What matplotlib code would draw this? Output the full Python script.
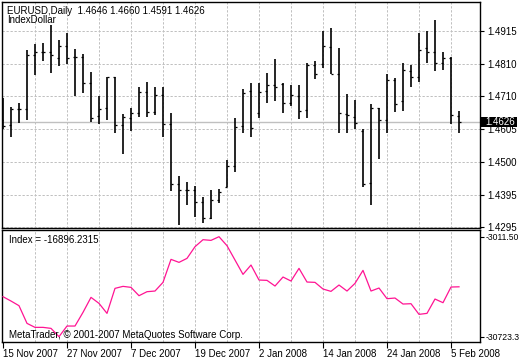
import numpy as np
import matplotlib.pyplot as plt
from matplotlib.transforms import blended_transform_factory
from matplotlib.patches import Rectangle

plt.rcParams['font.family'] = ['Liberation Sans', 'DejaVu Sans']

# EURUSD daily bars, 15 Nov 2007 - 6 Feb 2008
opens = [1.4633, 1.4616, 1.4667, 1.4667, 1.4838, 1.4847, 1.4847, 1.4828, 1.4867, 1.4831,
         1.4831, 1.4751, 1.4645, 1.4669, 1.4768, 1.4617, 1.4640, 1.4654, 1.4722, 1.4657,
         1.4712, 1.4620, 1.4430, 1.4411, 1.4411, 1.4373, 1.4322, 1.4380, 1.4420, 1.4487,
         1.4612, 1.4724, 1.4654, 1.4725, 1.4742, 1.4745, 1.4687, 1.4708, 1.4664, 1.4807,
         1.4809, 1.4863, 1.4778, 1.4651, 1.4643, 1.4599, 1.4432, 1.4669, 1.4633, 1.4758,
         1.4693, 1.4786, 1.4768, 1.4859, 1.4847, 1.4812, 1.4828, 1.4646]
highs = [1.4701, 1.4673, 1.4685, 1.4854, 1.4872, 1.4875, 1.4933, 1.4886, 1.4909, 1.4856,
         1.4841, 1.4785, 1.4708, 1.4768, 1.4770, 1.4652, 1.4669, 1.4738, 1.4752, 1.4736,
         1.4736, 1.4654, 1.4456, 1.4437, 1.4424, 1.4390, 1.4411, 1.4414, 1.4506, 1.4640,
         1.4730, 1.4749, 1.4749, 1.4782, 1.4824, 1.4749, 1.4742, 1.4742, 1.4812, 1.4819,
         1.4914, 1.4922, 1.4859, 1.4714, 1.4696, 1.4603, 1.4683, 1.4669, 1.4778, 1.4764,
         1.4812, 1.4807, 1.4909, 1.4914, 1.4949, 1.4848, 1.4831, 1.4660]
lows = [1.4603, 1.4580, 1.4622, 1.4633, 1.4775, 1.4820, 1.4782, 1.4804, 1.4809, 1.4710,
        1.4719, 1.4627, 1.4620, 1.4633, 1.4590, 1.4525, 1.4599, 1.4641, 1.4641, 1.4648,
        1.4578, 1.4409, 1.4301, 1.4364, 1.4327, 1.4308, 1.4321, 1.4371, 1.4420, 1.4469,
        1.4590, 1.4580, 1.4638, 1.4685, 1.4694, 1.4656, 1.4677, 1.4637, 1.4640, 1.4761,
        1.4796, 1.4778, 1.4593, 1.4590, 1.4603, 1.4422, 1.4364, 1.4510, 1.4590, 1.4659,
        1.4662, 1.4738, 1.4754, 1.4812, 1.4786, 1.4792, 1.4620, 1.4591]
closes = [1.4615, 1.4667, 1.4667, 1.4837, 1.4846, 1.4847, 1.4838, 1.4867, 1.4830, 1.4831,
          1.4751, 1.4638, 1.4667, 1.4768, 1.4616, 1.4643, 1.4656, 1.4722, 1.4657, 1.4712,
          1.4620, 1.4430, 1.4411, 1.4411, 1.4373, 1.4322, 1.4380, 1.4406, 1.4487, 1.4609,
          1.4719, 1.4606, 1.4721, 1.4742, 1.4738, 1.4685, 1.4711, 1.4660, 1.4807, 1.4778,
          1.4867, 1.4778, 1.4654, 1.4649, 1.4622, 1.4429, 1.4669, 1.4633, 1.4758, 1.4682,
          1.4791, 1.4768, 1.4853, 1.4847, 1.4812, 1.4828, 1.4647, 1.4626]

# IndexDollar indicator
index_vals = [-19638, -20839, -22132, -27028, -28136, -28136, -28414, -30723.3, -27767, -27767,
              -23980, -19823, -21486, -24257, -17329, -16775, -17052, -19361, -18253, -18068,
              -15666, -9293, -10124, -9016, -5783, -3843, -4028, -3011.5, -5505, -9477,
              -13449, -10863, -15020, -15112, -16682, -14188, -15297, -11787, -15574, -15666,
              -17514, -18160, -16405, -18068, -15943, -12341, -18068, -17237, -20192, -20008,
              -21670, -21578, -24534, -24257, -20285, -21301, -16960, -16896.2315]

date_labels = ['15 Nov 2007', '27 Nov 2007', '7 Dec 2007', '19 Dec 2007',
               '2 Jan 2008', '14 Jan 2008', '24 Jan 2008', '5 Feb 2008']
price_ticks = [1.4915, 1.4810, 1.4710, 1.4605, 1.4500, 1.4395, 1.4295]
index_ticks = [-3011.50, -30723.3]
index_tick_labels = ['-3011.50', '-30723.3']

W, H = 520, 360
fig = plt.figure(figsize=(W / 100, H / 100), dpi=100)
fig.patch.set_facecolor('white')

def px_axes(x0, y0, x1, y1):
    return fig.add_axes([x0 / W, 1 - y1 / H, (x1 - x0) / W, (y1 - y0) / H])

ax = px_axes(2, 2, 480, 228)
ax2 = px_axes(2, 230, 480, 342)

x = np.arange(len(closes))
xlim = (-0.125, 59.625)
grid_kw = dict(color='#c0c0c0', lw=0.72, dashes=(2.3, 1.7), zorder=0)

# --- price panel
for gx in range(4, 60, 4):
    ax.axvline(gx, **grid_kw)
    ax2.axvline(gx, **grid_kw)
for p in price_ticks:
    ax.axhline(p, **grid_kw)
ax.axhline(closes[-1], color='#c0c0c0', lw=1.0, zorder=1)

ax.vlines(x, lows, highs, color='black', lw=1.2, zorder=3)
ax.hlines(opens, x - 0.3, x, color='black', lw=0.9, zorder=3)
ax.hlines(closes, x, x + 0.3, color='black', lw=0.9, zorder=3)

ax.set_xlim(*xlim)
ax.set_ylim(1.4291, 1.50057)
ax.yaxis.tick_right()
ax.set_yticks(price_ticks)
ax.set_yticklabels(['%.4f' % p for p in price_ticks])
ax.tick_params(axis='y', direction='out', length=3, width=0.8, pad=2.5, labelsize=7)
ax.tick_params(axis='x', bottom=False, labelbottom=False)

# last price tag
tr = blended_transform_factory(ax.transAxes, ax.transData)
ax.add_patch(Rectangle((1.003, closes[-1] - 0.00155), 36 / 478, 0.0031, transform=tr,
                       facecolor='black', edgecolor='none', clip_on=False, zorder=6))
ax.text(1.0 + 5 / 478, closes[-1], '%.4f' % closes[-1], transform=tr, color='white',
        fontsize=7, va='center', ha='left', zorder=7, clip_on=False)

fig.text(7 / W, 1 - 11 / H, 'EURUSD,Daily  %.4f %.4f %.4f %.4f' % (opens[-1], highs[-1], lows[-1], closes[-1]),
         fontsize=7, va='center', ha='left')
fig.text(7 / W, 1 - 20 / H, 'IndexDollar', fontsize=7, va='center', ha='left')

# --- index panel
ax2.plot(x, index_vals, color='#ff1493', lw=0.9, zorder=3)
ax2.set_xlim(*xlim)
ax2.set_ylim(-32192, -1155)
ax2.yaxis.tick_right()
ax2.set_yticks(index_ticks)
ax2.set_yticklabels(index_tick_labels)
ax2.tick_params(axis='y', direction='out', length=3, width=0.8, pad=1.2, labelsize=6.2)
ax2.set_xticks(range(0, 57, 8))
ax2.set_xticklabels(date_labels)
for lbl in ax2.get_xticklabels():
    lbl.set_horizontalalignment('left')
ax2.tick_params(axis='x', direction='out', length=4, width=0.8, pad=1, labelsize=7)

ax2.text(7 / 478, 1 - 10 / 112, 'Index = %.4f' % index_vals[-1], transform=ax2.transAxes,
         fontsize=7, va='center', ha='left')
ax2.text(7 / 478, 1 - 105 / 112, 'MetaTrader, \u00a9 2001-2007 MetaQuotes Software Corp.',
         transform=ax2.transAxes, fontsize=7, va='center', ha='left', zorder=4)

for a in (ax, ax2):
    for s in a.spines.values():
        s.set_color('black')
        s.set_linewidth(1.0)

fig.savefig('out.png', dpi=100)
